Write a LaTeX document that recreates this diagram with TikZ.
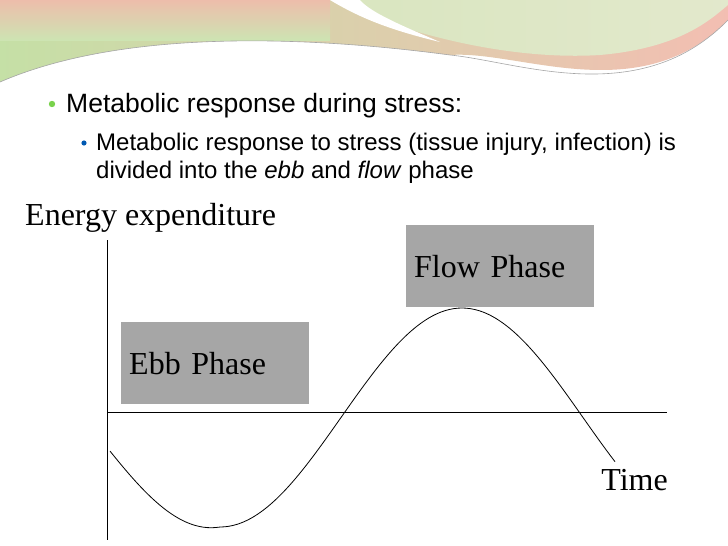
\documentclass[tikz,border=0pt]{standalone}
\usepackage{fontspec}
\setmainfont{Liberation Serif}
\newfontfamily\arialf{Liberation Sans}
\begin{document}
\begin{tikzpicture}[x=1pt,y=-1pt,
 phasebox/.style={fill=black!35,minimum width=188pt,minimum height=82pt,inner sep=8pt,text width=172pt,align=left,font=\fontsize{32}{34}\selectfont},
 lbl/.style={font=\fontsize{32}{34}\selectfont,inner sep=0pt},
 axis/.style={line width=0.8pt}]
\useasboundingbox (0,0) rectangle (728,546);
\fill[white] (0,0) rectangle (728,546);
% top decoration
\shade[left color=green!30!olive!35,right color=red!45!brown!35] (0,0) -- (728,0) -- (728,20) .. controls (640,110) and (520,50) .. (450,55) .. controls (300,35) and (120,30) .. (0,82) -- cycle;
\shade[top color=red!30!brown!40,bottom color=green!30!olive!30] (0,0) rectangle (330,40);
\shade[left color=green!20!olive!25,right color=green!12!olive!20] (330,0) .. controls (420,40) and (520,60) .. (600,55) .. controls (680,48) and (710,20) .. (728,5) -- (728,0) -- cycle;
\fill[white] (330,0) .. controls (360,18) and (390,30) .. (440,42) .. controls (400,25) and (370,12) .. (360,0) -- cycle;
\draw[gray!70,line width=0.6pt] (0,82) .. controls (120,30) and (300,35) .. (450,55) .. controls (520,62) and (640,110) .. (728,20);
% bullets
\fill[green!50!olive!70] (52,104) circle (3.2pt);
\node[anchor=base west,inner sep=0pt,font=\arialf\fontsize{26.5}{28}\selectfont] (b1) at (66,112) {Metabolic response during stress:};
\fill[blue!50!cyan!70!black] (84,143) circle (2.6pt);
\node[anchor=base west,inner sep=0pt,font=\arialf\fontsize{24}{28}\selectfont] (b2) at (96,150) {Metabolic response to stress (tissue injury, infection) is};
\node[anchor=base west,inner sep=0pt,font=\arialf\fontsize{24}{28}\selectfont] (b3) at (96,178) {divided into the \textit{ebb} and \textit{flow} phase};
% axes
\node[lbl,anchor=base west] (ee) at (25,225) {Energy expenditure};
\coordinate (o) at (107,412);
\coordinate (top) at (107,240);
\coordinate (bot) at (107,540);
\coordinate (xend) at (667,412);
\draw[axis] (top) -- (bot);
\draw[axis] (o) -- (xend);
\node[lbl,anchor=base east] (time) at (668,490) {Time};
% boxes
\node[phasebox,anchor=north west] (ebb) at (121,322) {Ebb Phase};
\node[phasebox,anchor=north west] (flow) at (406,225) {Flow Phase};
% curve
\draw[line width=0.8pt,domain=110:615,samples=120,smooth] plot (\x,{417.5+109.5*cos((\x-220)/242*180)+ (\x<220)*(1-(\x-110)/110)*18});
\end{tikzpicture}
\end{document}
